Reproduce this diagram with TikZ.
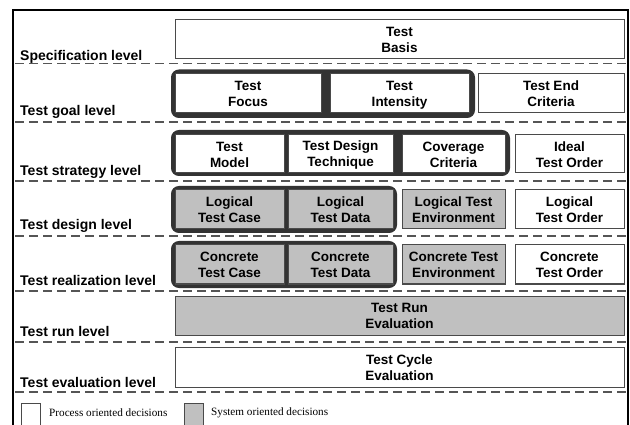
\documentclass[tikz,border=0pt]{standalone}
\usepackage{fontspec}
\setmainfont{Liberation Serif}
\newfontfamily\boldsans{Liberation Sans}
\definecolor{grpdark}{HTML}{333333}
\definecolor{boxline}{HTML}{4A4A4A}
\definecolor{dashcol}{HTML}{555555}
\definecolor{sysgray}{HTML}{C0C0C0}
\newcommand\mystrut{\rule[-1.3pt]{0pt}{13.3pt}}
\newcommand\twol[2]{\mystrut #1\\\mystrut #2}
\begin{document}
\begin{tikzpicture}[x=1pt,y=-1pt,
  box/.style={draw=boxline, line width=1pt, fill=white, inner sep=0pt, outer sep=0pt,
    align=center, font=\boldsans\bfseries\fontsize{13.5}{16}\selectfont},
  sysbox/.style={box, fill=sysgray},
  grp/.style={draw=grpdark, fill=grpdark, line width=4pt, rounded corners=6pt, inner sep=0pt, outer sep=0pt},
  lvl/.style={anchor=base west, inner sep=0pt, font=\boldsans\bfseries\fontsize{14}{16}\selectfont},
  sep/.style={draw=dashcol, line width=1.8pt, dash pattern=on 9pt off 5pt},
  legsq/.style={draw=boxline, line width=1pt},
  legtxt/.style={anchor=west, inner sep=0pt, font=\fontsize{11.2}{13}\selectfont}]
\useasboundingbox (0,0) rectangle (630,425);
\fill[white] (0,0) rectangle (630,425);
% outer frame
\draw[black, line width=2pt] (13,440) -- (13,10) -- (628,10) -- (628,440);
% separators
\foreach \yy/\nm in {63.5/s1,122/s2,181/s3,236/s4,291/s5,342/s6,392/s7}{
  \coordinate (\nm a) at (15,\yy);
  \coordinate (\nm b) at (626,\yy);
  \draw[sep] (\nm a) -- (\nm b);
}
% level labels
\node[lvl] (l1) at (20,60.5) {Specification level};
\node[lvl] (l2) at (20,116) {Test goal level};
\node[lvl] (l3) at (20,175.5) {Test strategy level};
\node[lvl] (l4) at (20,229.5) {Test design level};
\node[lvl] (l5) at (20,285) {Test realization level};
\node[lvl] (l6) at (20,336) {Test run level};
\node[lvl] (l7) at (20,387) {Test evaluation level};
% specification
\node[box, minimum width=449pt, minimum height=39pt] (basis) at (399.5,39.5) {\twol{Test}{Basis}};
% goal level
\node[grp, minimum width=300pt, minimum height=44.5pt] (g1) at (323,93.75) {};
\node[box, minimum width=146pt, minimum height=39pt] (focus) at (248,93.5) {\twol{Test}{Focus}};
\node[box, minimum width=139pt, minimum height=39pt] (intens) at (399.5,93.5) {\twol{Test}{Intensity}};
\node[box, minimum width=146pt, minimum height=39pt] (endcrit) at (551,93.5) {\twol{Test End}{Criteria}};
% strategy level
\node[grp, minimum width=335pt, minimum height=42pt] (g2) at (340.5,153) {};
\node[box, minimum width=109pt, minimum height=38pt] (model) at (229.5,154) {\twol{Test}{Model}};
\node[box, minimum width=105pt, minimum height=38pt] (tdt) at (340.5,154) {\twol{Test Design}{Technique}};
\node[box, minimum width=103pt, minimum height=38pt] (cov) at (453.5,154) {\twol{Coverage}{Criteria}};
\node[box, minimum width=109pt, minimum height=38pt] (ideal) at (569.5,154) {\twol{Ideal}{Test Order}};
% design level
\node[grp, minimum width=222pt, minimum height=43pt] (g3) at (284,209.5) {};
\node[sysbox, minimum width=109pt, minimum height=39pt] (ltc) at (229.5,209.5) {\twol{Logical}{Test Case}};
\node[sysbox, minimum width=105pt, minimum height=39pt] (ltd) at (340.5,209.5) {\twol{Logical}{Test Data}};
\node[sysbox, minimum width=103pt, minimum height=39pt] (lte) at (453.5,209.5) {\twol{Logical Test}{Environment}};
\node[box, minimum width=109pt, minimum height=39pt] (lto) at (569.5,209.5) {\twol{Logical}{Test Order}};
% realization level
\node[grp, minimum width=222pt, minimum height=43pt] (g4) at (284,264.5) {};
\node[sysbox, minimum width=109pt, minimum height=39pt] (ctc) at (229.5,264.5) {\twol{Concrete}{Test Case}};
\node[sysbox, minimum width=105pt, minimum height=39pt] (ctd) at (340.5,264.5) {\twol{Concrete}{Test Data}};
\node[sysbox, minimum width=103pt, minimum height=39pt] (cte) at (453.5,264.5) {\twol{Concrete Test}{Environment}};
\node[box, minimum width=109pt, minimum height=39pt] (cto) at (569.5,264.5) {\twol{Concrete}{Test Order}};
% run level
\node[sysbox, minimum width=449pt, minimum height=39pt] (run) at (399.5,315.5) {\twol{Test Run}{Evaluation}};
% evaluation level
\node[box, minimum width=449pt, minimum height=40pt] (cycle) at (399.5,367) {\twol{Test Cycle}{Evaluation}};
% legend
\node[legsq, fill=white, minimum width=19pt, minimum height=26pt, inner sep=0pt, anchor=north west] (sqp) at (21,403) {};
\node[legtxt] (tp) at (49,413) {Process oriented decisions};
\node[legsq, fill=sysgray, minimum width=19pt, minimum height=26pt, inner sep=0pt, anchor=north west] (sqs) at (184,403) {};
\node[legtxt] (ts) at (211,413) {System oriented decisions};
\end{tikzpicture}
\end{document}
